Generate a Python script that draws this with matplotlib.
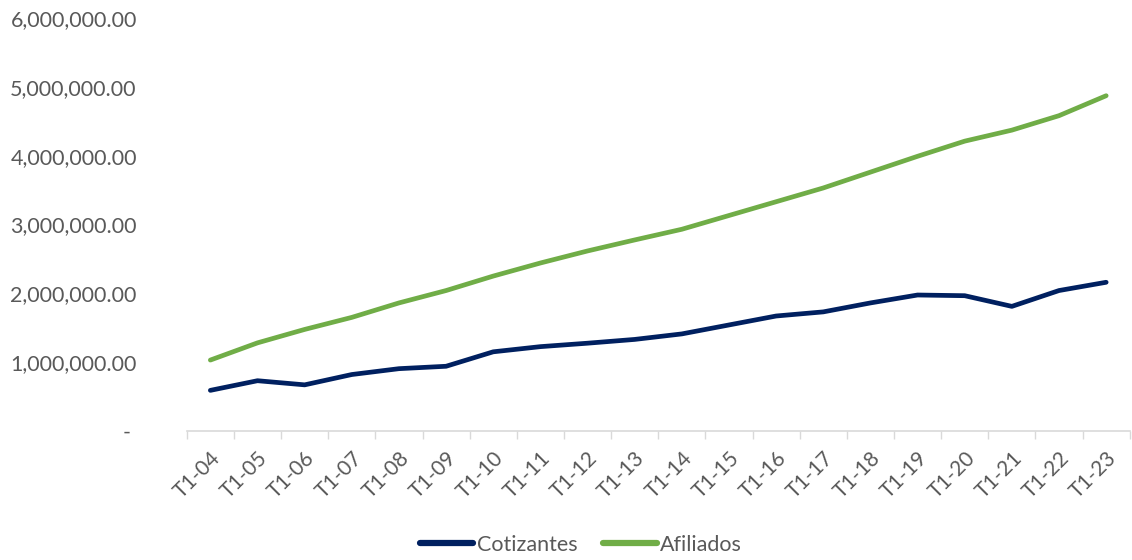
import matplotlib
matplotlib.use("Agg")
import matplotlib.pyplot as plt
from matplotlib.ticker import FuncFormatter

categories = ["T1-04", "T1-05", "T1-06", "T1-07", "T1-08", "T1-09", "T1-10",
              "T1-11", "T1-12", "T1-13", "T1-14", "T1-15", "T1-16", "T1-17",
              "T1-18", "T1-19", "T1-20", "T1-21", "T1-22", "T1-23"]
cotizantes = [590000, 730000, 670000, 820000, 905000, 940000, 1150000,
              1225000, 1275000, 1330000, 1410000, 1540000, 1670000, 1730000,
              1860000, 1975000, 1965000, 1810000, 2040000, 2160000]
afiliados = [1030000, 1280000, 1475000, 1650000, 1860000, 2040000, 2250000,
             2440000, 2615000, 2775000, 2930000, 3130000, 3330000, 3530000,
             3760000, 3990000, 4210000, 4370000, 4580000, 4870000]

plt.rcParams['font.family'] = ['Lato', 'DejaVu Sans']
text_color = '#595959'

fig = plt.figure(figsize=(11.32, 5.6), dpi=100)
ax = fig.add_axes([0.165, 0.2304, 0.833, 0.7376])

x = list(range(len(categories)))
ax.plot(x, cotizantes, color='#002060', lw=3.4, solid_capstyle='round', label='Cotizantes')
ax.plot(x, afiliados, color='#70AD47', lw=3.4, solid_capstyle='round', label='Afiliados')

ax.set_xlim(-0.5, len(categories) - 0.5)
ax.set_ylim(0, 6000000)
ax.set_yticks(range(0, 6000001, 1000000))

def fmt(v, pos):
    if v == 0:
        return '- '
    return f"{v:,.2f}"

ax.yaxis.set_major_formatter(FuncFormatter(fmt))
ax.tick_params(axis='y', length=0, pad=36, labelsize=15.5, labelcolor=text_color)

ax.set_xticks(x)
ax.set_xticklabels(categories, rotation=45, ha='right', rotation_mode='anchor')
ax.set_xticks([i - 0.5 for i in range(len(categories) + 1)], minor=True)
ax.tick_params(axis='x', which='major', length=0, pad=12, labelsize=15, labelcolor=text_color)
ax.tick_params(axis='x', which='minor', length=6, color='#d9d9d9', width=1)

for s in ['top', 'right', 'left']:
    ax.spines[s].set_visible(False)
ax.spines['bottom'].set_color('#d9d9d9')
ax.spines['bottom'].set_linewidth(1.2)

leg = fig.legend(loc='center', bbox_to_anchor=(0.513, 0.027), ncol=2, frameon=False,
                 fontsize=15.5, handlelength=2.5, handletextpad=0.15, columnspacing=1.2,
                 labelcolor=text_color)
for h in leg.get_lines():
    h.set_linewidth(4.5)

fig.savefig('out.png', dpi=100)
